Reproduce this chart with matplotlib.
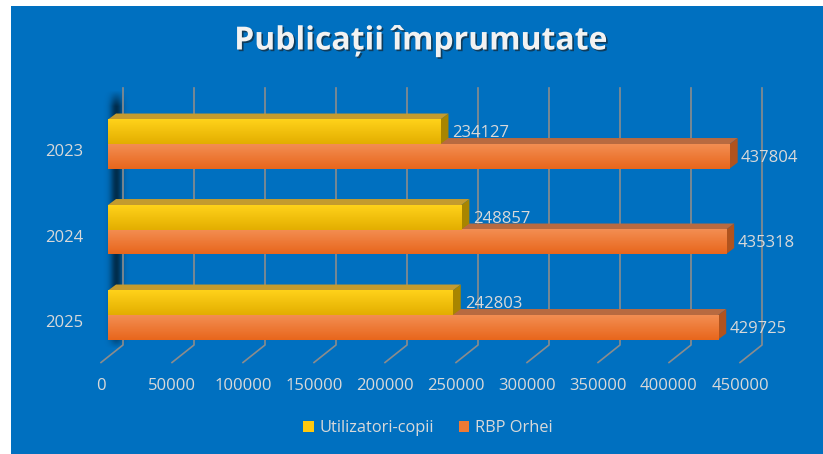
import numpy as np
import matplotlib
matplotlib.use("Agg")
import matplotlib.pyplot as plt
from matplotlib.patches import Rectangle, Polygon
from matplotlib.colors import LinearSegmentedColormap
from matplotlib.transforms import ScaledTranslation
import matplotlib.patheffects as pe

years = ["2023", "2024", "2025"]
copii = [234127, 248857, 242803]
rbp = [437804, 435318, 429725]
series_names = ["Utilizatori-copii", "RBP Orhei"]
xticks = list(range(0, 450001, 50000))

plt.rcParams["font.family"] = ["Open Sans", "DejaVu Sans"]

BLUE = "#0070C0"
TXT = "#D9D9D9"
GRID = "#8C8C8C"

fig = plt.figure(figsize=(8.23, 4.54), dpi=100)
fig.patch.set_facecolor("white")
fig.patches.append(Rectangle((11 / 823, 0), 1 - 11 / 823, 1 - 6 / 454,
                             transform=fig.transFigure, facecolor=BLUE,
                             edgecolor="none", zorder=-10))

ax = fig.add_axes([108 / 823, 1 - 357 / 454, 639 / 823, 257 / 454])
ax.set_facecolor("none")
for s in ax.spines.values():
    s.set_visible(False)
ax.set_xlim(0, 450000)
ax.set_ylim(2.491, -0.515)

def shift(x, y, dxp, dyp):
    X, Y = ax.transData.transform((x, y))
    return tuple(ax.transData.inverted().transform((X + dxp, Y + dyp)))

y_top, y_floor = -0.515, 2.491

# soft shadow on the wall, left edge of the bars
xs = np.linspace(-6, 24, 60)
ys = np.linspace(0, 1, 200)
alpha_x = np.exp(-((xs - 8) / 6.0) ** 2)
alpha_y = np.clip(ys / 0.06, 0, 1) * np.clip((1 - ys) / 0.06, 0, 1)
sh = np.zeros((len(ys), len(xs), 4))
sh[..., 3] = 0.6 * alpha_y[:, None] * alpha_x[None, :]
sx0 = shift(0, y_top, -6, 0)[0]
sx1 = shift(0, y_top, 24, 0)[0]
sy0 = shift(0, y_top, 0, 10)[1]
sy1 = shift(0, y_floor, 0, 8)[1]
ax.imshow(sh, origin="upper", extent=(sx0, sx1, sy1, sy0), aspect="auto",
          zorder=0.5, interpolation="bilinear", clip_on=False)

# back wall gridlines + floor lines
for xv in xticks:
    p_top = shift(xv, y_top, 15, 12)
    p_bot = shift(xv, y_floor, 15, 12)
    p_front = shift(xv, y_floor, -7, -5.5)
    ax.plot([p_top[0], p_bot[0], p_front[0]], [p_top[1], p_bot[1], p_front[1]],
            color=GRID, lw=1.2, clip_on=False, zorder=1)

pos = np.arange(len(years))
h = 24.5 / 85.5
depth = (8, 6)

styles = {
    "copii": dict(base="#FFC90E", light="#FFD21A", dark="#E3AE00",
                  top="#C49B2E", side="#A88500"),
    "rbp": dict(base="#EE7A34", light="#F38E52", dark="#E8661C",
                top="#B86A40", side="#B0531E"),
}

def draw_bars(vals, centers, st, label, z):
    bars = ax.barh(centers, vals, height=h, color=st["base"], label=label,
                   zorder=z + 2, edgecolor="none")
    cmap = LinearSegmentedColormap.from_list("g", [st["light"], st["dark"]])
    for v, c in zip(vals, centers):
        y0, y1 = c - h / 2, c + h / 2
        # top face
        ax.add_patch(Polygon([(0, y0), (v, y0), shift(v, y0, *depth), shift(0, y0, *depth)],
                             closed=True, facecolor=st["top"], edgecolor="none",
                             zorder=z, clip_on=False))
        # side face
        ax.add_patch(Polygon([(v, y0), shift(v, y0, *depth), shift(v, y1, *depth), (v, y1)],
                             closed=True, facecolor=st["side"], edgecolor="none",
                             zorder=z + 1, clip_on=False))
        ax.imshow(np.linspace(0, 1, 60).reshape(-1, 1), cmap=cmap, origin="upper",
                  extent=(0, v, y1, y0), aspect="auto", zorder=z + 3,
                  interpolation="bilinear")
    return bars

b_rbp = draw_bars(rbp, pos + h / 2, styles["rbp"], series_names[1], 3)
b_cop = draw_bars(copii, pos - h / 2, styles["copii"], series_names[0], 8)
ax.set_xlim(0, 450000)
ax.set_ylim(2.491, -0.515)

for v, c in zip(copii, pos - h / 2):
    ax.annotate(f"{v}", (v, c), xytext=(12, -1.5), textcoords="offset pixels",
                va="center", ha="left", color=TXT, fontsize=12, zorder=20,
                annotation_clip=False)
for v, c in zip(rbp, pos + h / 2):
    ax.annotate(f"{v}", (v, c), xytext=(11, -1.5), textcoords="offset pixels",
                va="center", ha="left", color=TXT, fontsize=12, zorder=20,
                annotation_clip=False)

ax.set_xticks(xticks)
ax.set_xticklabels([str(t) for t in xticks])
ax.set_yticks(pos)
ax.set_yticklabels(years)
ax.tick_params(axis="x", length=0, pad=15, labelsize=12, labelcolor=TXT)
ax.tick_params(axis="y", length=0, pad=18, labelsize=12, labelcolor=TXT)
for lab in ax.get_xticklabels():
    lab.set_transform(lab.get_transform() + ScaledTranslation(-7 / 100, 0, fig.dpi_scale_trans))
for lab in ax.get_yticklabels():
    lab.set_transform(lab.get_transform() + ScaledTranslation(0, -6 / 100, fig.dpi_scale_trans))

fig.text(421 / 823, 1 - 41 / 454, "Publicații împrumutate", ha="center", va="center",
         fontsize=23, fontweight="bold", color="#F2F2F2",
         path_effects=[pe.withSimplePatchShadow(offset=(1.2, -1.2), shadow_rgbFace="#1a1a1a", alpha=0.6)])

leg = fig.legend(handles=[b_cop, b_rbp], labels=series_names, loc="center",
                 bbox_to_anchor=(428 / 823, 1 - 428 / 454), ncol=2, frameon=False,
                 fontsize=11.8, labelcolor=TXT, handlelength=0.65, handleheight=0.65,
                 handletextpad=0.35, columnspacing=1.5)

fig.savefig("out.png", dpi=100)
